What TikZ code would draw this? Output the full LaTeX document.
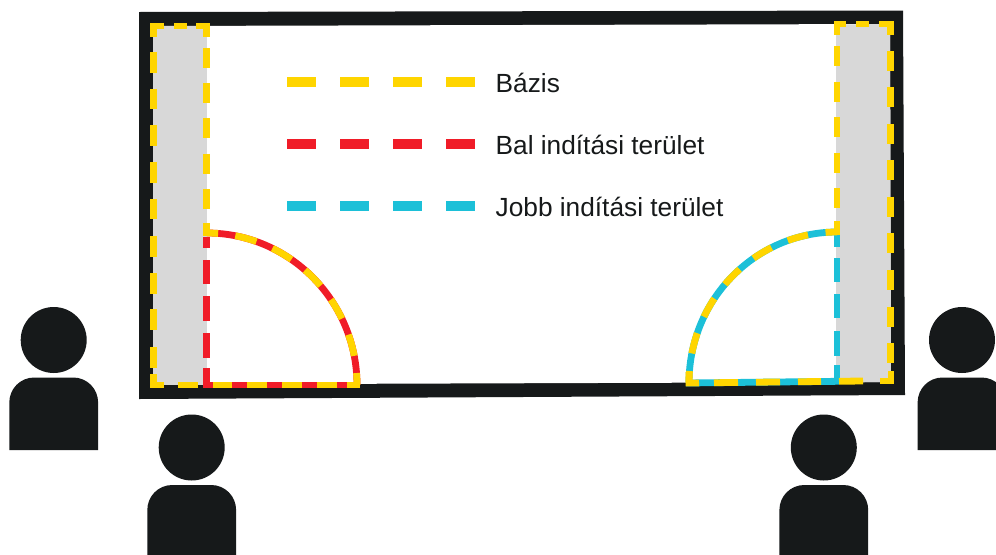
\documentclass[tikz,border=0pt]{standalone}
\usepackage{fontspec}
\setmainfont{Liberation Sans}
\definecolor{ink}{HTML}{16191A}
\definecolor{paleg}{HTML}{D8D8D8}
\definecolor{yel}{HTML}{FFD500}
\definecolor{redd}{HTML}{F01C28}
\definecolor{cya}{HTML}{1CC0D8}
\tikzset{
  ln/.style={line width=5.1pt,line cap=butt,line join=miter},
  yl/.style={ln,draw=yel},
  rd/.style={ln,draw=redd},
  cy/.style={ln,draw=cya},
  legdash/.style={line width=8pt,line cap=butt},
  legtext/.style={anchor=west,inner sep=0pt,font=\fontsize{19.7pt}{22pt}\selectfont,text=ink},
}
% #1 = head x, #2 = head y, #3 = bottom of the body
\newcommand{\person}[3]{%
  \fill[ink] (#1,#2) circle[radius=33];
  \fill[ink] (#1-44.4,#3) -- (#1-44.4,#2+62.5) .. controls (#1-44.4,#2+48.7) and (#1-33.4,#2+37.5) .. (#1-19.4,#2+37.5)
    -- (#1+19.4,#2+37.5) .. controls (#1+33.4,#2+37.5) and (#1+44.4,#2+48.7) .. (#1+44.4,#2+62.5) -- (#1+44.4,#3) -- cycle;
}
\begin{document}
\begin{tikzpicture}[x=0.75pt,y=-0.75pt]
\useasboundingbox (0,0) rectangle (996,554);
% frame
\fill[ink] (139,12) -- (903,10.5) -- (905,395) -- (139,399) -- cycle;
\fill[white] (153,26) -- (890,24) -- (891,382) -- (153,384.5) -- cycle;
% grey bars
\fill[paleg] (153,26) rectangle (207,384.5);
\fill[paleg] (836,24.5) -- (890,24) -- (891,382) -- (836,382.5) -- cycle;
% people
\begin{scope}
\clip (0,0) rectangle (996,554);
\person{53.7}{340}{450}
\person{191.7}{447.5}{560}
\person{823.8}{447.5}{560}
\person{962}{340}{450}
\end{scope}
% left rect
\draw[yl] (164,26) -- (153.5,26) -- (153.5,37);
\draw[yl] (174,26) -- (187,26);
\draw[yl] (196,26) -- (206.8,26) -- (206.8,37);
\foreach \s in {52,88.7,125.4,162.1,198.8,236,273,309,347}
  \draw[yl] (153.5,\s) -- (153.5,\s+20.5);
\draw[yl] (153.5,374) -- (153.5,385) -- (164,385);
\draw[yl] (178,385) -- (198,385);
\foreach \s in {48,83,118,153.5,189}
  \draw[yl] (206.8,\s) -- (206.8,\s+20);
% left quarter
\foreach \s/\e in {237/248,260/284,296/321,333/358,368/388}
  \draw[rd] (206.8,\s) -- (206.8,\e);
\draw[rd] (204,385) -- (360,385);
\draw[rd] (357,385) .. controls (357,301) and (289.4,233) .. (206.8,233);
\foreach \a/\b in {213/232,247/267,282/302,317/337}
  \draw[yl] (\a,385) -- (\b,385);
\draw[yl] (347,385) -- (357,385) -- (357,374);
\draw[yl,dash pattern=on 16.5pt off 13pt,dash phase=7.5pt] (357,385) .. controls (357,301) and (289.4,233) .. (206.8,233);
\draw[yl] (217,233) -- (206.8,233) -- (206.8,223);
% right rect
\draw[yl] (846,24) -- (837,24) -- (837,35);
\draw[yl] (856,24) -- (869,24);
\draw[yl] (879,24) -- (890.5,24) -- (890.5,35);
\foreach \s in {46,81.5,117,152.5,188}
  \draw[yl] (837,\s) -- (837,\s+20);
\foreach \s in {51,87.4,123.8,160.2,196.6,233,270,307,343}
  \draw[yl] (890.5,\s) -- (890.5,\s+20);
\draw[yl] (880,381) -- (891,381) -- (891,371);
% right quarter
\foreach \s/\e in {235/247,258/282,294/318,331/356,365/384}
  \draw[cy] (837,\s) -- (837,\e);
\draw[cy] (686,383) -- (839,381.3);
\draw[cy] (689,383) .. controls (689,299.6) and (755.3,232) .. (837,232);
\foreach \a/\b in {714/738,756/780,798/821,839/863}
  \draw[yl] (\a,{383-(\a-689)*0.0115}) -- (\b,{383-(\b-689)*0.0115});
\draw[yl] (699,382.9) -- (689,383) -- (689,372);
\draw[yl,dash pattern=on 15.75pt off 13.3pt,dash phase=6.75pt] (689,383) .. controls (689,299.6) and (755.3,232) .. (837,232);
\draw[yl] (827,232) -- (837,232) -- (837,221);
% legend
\foreach \y/\c in {82/yel,144/redd,206/cya}
  \foreach \x in {287,340,393,446}
    \draw[legdash,draw=\c] (\x,\y) -- (\x+29,\y);
\node[legtext] (lbase) at (495.4,83) {Bázis};
\node[legtext] (lleft) at (495.4,145) {Bal indítási terület};
\node[legtext] (lright) at (495.4,207) {Jobb indítási terület};
\end{tikzpicture}
\end{document}
